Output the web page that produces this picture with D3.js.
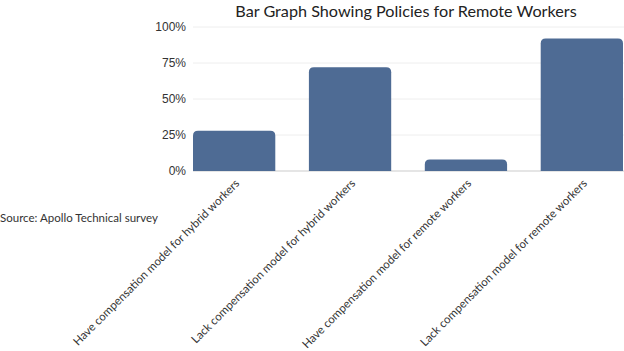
<!DOCTYPE html>
<html>
<head>
<meta charset="utf-8">
<script src="https://cdn.jsdelivr.net/npm/d3@7"></script>
<style>
  body { margin: 0; background: #fff; }
  svg { display: block; }
</style>
</head>
<body>
<script>
// chart data
let categories = [
    "Have compensation model for hybrid workers",
    "Lack compensation model for hybrid workers",
    "Have compensation model for remote workers",
    "Lack compensation model for remote workers"
];
let values = [28, 72, 8, 92];
let yTicks = [0, 25, 50, 75, 100];

let width = 624, height = 351;

let svg = d3.select("body").append("svg")
    .attr("width", width)
    .attr("height", height);

let x = d3.scaleBand()
    .domain(categories)
    .range([193, 623])
    .paddingInner(0.29)
    .paddingOuter(0);

let y = d3.scaleLinear()
    .domain([0, 100])
    .range([171, 27]);

// gridlines
svg.selectAll(".grid")
    .data(yTicks)
    .enter().append("line")
    .attr("x1", 193)
    .attr("x2", width)
    .attr("y1", d => y(d))
    .attr("y2", d => y(d))
    .attr("stroke", d => d === 0 ? "#dcdcdc" : "#eeeeee")
    .attr("stroke-width", d => d === 0 ? 1.5 : 1);

// y axis labels
let yAxis = svg.append("g")
    .attr("transform", "translate(186,0)")
    .call(d3.axisLeft(y).tickValues(yTicks).tickFormat(d => d + "%").tickSize(0).tickPadding(0));
yAxis.select(".domain").remove();
yAxis.selectAll("text")
    .attr("font-family", "Liberation Sans, Arial, sans-serif")
    .attr("font-size", 12)
    .attr("fill", "#333");

// bars with rounded tops
let r = 5;
svg.selectAll(".bar")
    .data(values)
    .enter().append("path")
    .attr("class", "bar")
    .attr("fill", "#4e6b94")
    .attr("d", function(d, i) {
        let x0 = x(categories[i]), w = x.bandwidth();
        let yt = y(d), yb = y(0);
        return "M" + x0 + "," + yb +
            "V" + (yt + r) +
            "Q" + x0 + "," + yt + " " + (x0 + r) + "," + yt +
            "H" + (x0 + w - r) +
            "Q" + (x0 + w) + "," + yt + " " + (x0 + w) + "," + (yt + r) +
            "V" + yb + "Z";
    });

// x labels, rotated
svg.selectAll(".xlabel")
    .data(categories)
    .enter().append("text")
    .attr("class", "xlabel")
    .attr("transform", d => "translate(" + (x(d) + x.bandwidth() / 2 + 6) + ",184) rotate(-45)")
    .attr("text-anchor", "end")
    .attr("font-family", "Lato, sans-serif")
    .attr("font-size", 11.5)
    .attr("fill", "#333")
    .text(d => d);

// title
svg.append("text")
    .attr("x", 406)
    .attr("y", 17)
    .attr("text-anchor", "middle")
    .attr("font-family", "Lato, sans-serif")
    .attr("font-size", 16.2)
    .attr("fill", "#222")
    .text("Bar Graph Showing Policies for Remote Workers");

// source note
svg.append("text")
    .attr("x", 0)
    .attr("y", 222)
    .attr("font-family", "Lato, sans-serif")
    .attr("font-size", 11.5)
    .attr("fill", "#333")
    .text("Source: Apollo Technical survey");
</script>
</body>
</html>
